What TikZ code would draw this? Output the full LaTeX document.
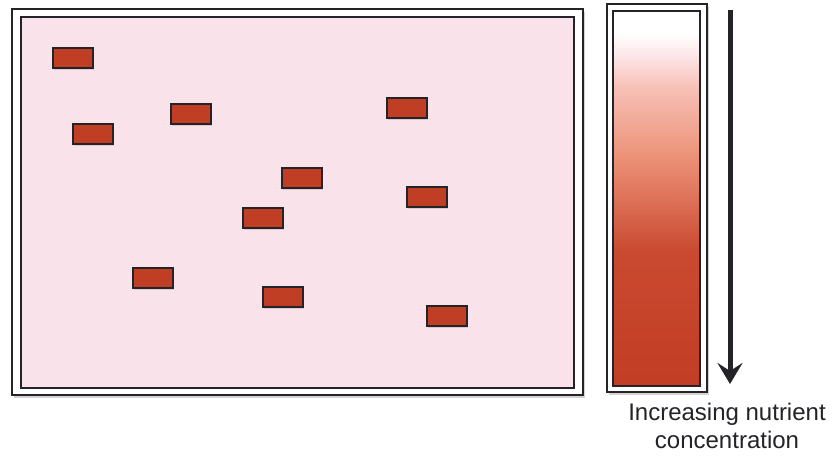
\documentclass[tikz,border=0pt]{standalone}
\usepackage{fontspec}
\setmainfont{Liberation Sans}
\usepackage{tikz}
\usetikzlibrary{arrows.meta,positioning,shadows}
\definecolor{cbrick}{RGB}{192,62,36}
\definecolor{cdish}{RGB}{249,226,233}
\definecolor{cline}{RGB}{35,35,40}
% the path is fitted to 25bp..75bp
\pgfdeclareverticalshading{nutrient}{100bp}{%
  rgb(0bp)=(0.76,0.24,0.14);
  rgb(25bp)=(0.76,0.24,0.14);
  rgb(43bp)=(0.79,0.29,0.19);
  rgb(56bp)=(0.93,0.58,0.48);
  rgb(65bp)=(0.97,0.76,0.72);
  rgb(69bp)=(0.99,0.90,0.91);
  rgb(72bp)=(1,1,1);
  rgb(100bp)=(1,1,1)}
\tikzset{
  frameout/.style={draw=cline,line width=2pt,fill=white,
    drop shadow={shadow xshift=2pt,shadow yshift=-3pt,opacity=0.35}},
  framein/.style={draw=cline,line width=2pt},
  brick/.style={draw=cline,line width=1.6pt,fill=cbrick,
    minimum width=40pt,minimum height=20pt,inner sep=0pt,
    drop shadow={shadow xshift=1pt,shadow yshift=-2pt,opacity=0.25}},
}

\begin{document}
\begin{tikzpicture}[x=1pt,y=-1pt]
    \useasboundingbox (0,0) rectangle (834,457);
    % culture dish
    \begin{scope}
      \draw[frameout] (12,9) rectangle (583,395);
      \draw[framein,fill=cdish] (21,17) rectangle (574,388);
      \node[brick] (b1) at (73,58) {};
      \node[brick] (b2) at (93,134) {};
      \node[brick] (b3) at (191,114) {};
      \node[brick] (b4) at (407,108) {};
      \node[brick] (b5) at (302,178) {};
      \node[brick] (b6) at (263,218) {};
      \node[brick] (b7) at (427,197) {};
      \node[brick] (b8) at (153,278) {};
      \node[brick] (b9) at (283,297) {};
      \node[brick] (b10) at (447,316) {};
    \end{scope}
    % gradient bar
    \begin{scope}
      \draw[frameout] (607,4) rectangle (707,392);
      \draw[framein,shading=nutrient] (613,11) rectangle (700,386);
    \end{scope}
    \coordinate (atop) at (730,10);
    \coordinate (abot) at (730,384);
    \draw[line width=5pt,cline,-{Stealth[length=21pt,width=25pt,inset=8pt]}] (atop) -- (abot);
    \node[font=\fontsize{24}{28}\selectfont,text=cline,align=center] (lbl) at (727,426) {Increasing nutrient\\concentration};
  \end{tikzpicture}
\end{document}
